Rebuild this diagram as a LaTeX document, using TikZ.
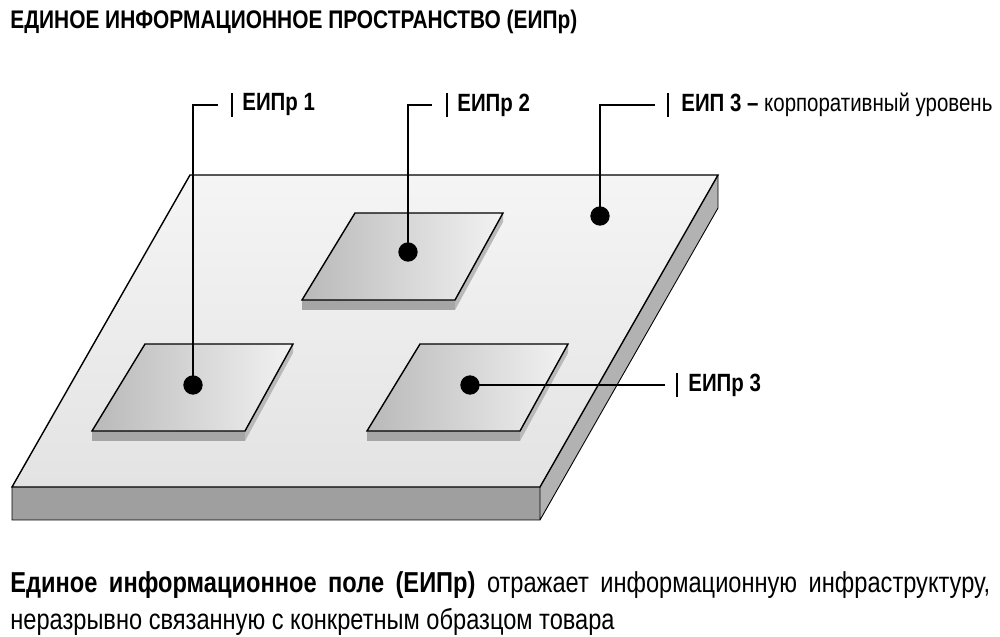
\documentclass[tikz,border=0pt]{standalone}
\usepackage{fontspec}
\setmainfont{Liberation Sans}
\newfontfamily\cond[FakeStretch=0.82]{Liberation Sans}
\begin{document}
\begin{tikzpicture}[x=0.02cm,y=-0.02cm,
  face/.style={draw=black,line width=0.8pt},
  dot/.style={circle,fill=black,inner sep=0pt,minimum size=11pt},
  lead/.style={draw=black,line width=0.6pt},
  lbl/.style={anchor=west,inner sep=0pt,font=\cond\fontsize{14.2}{16}\selectfont}]
\useasboundingbox (0,0) rectangle (1000,636);
\node[anchor=west,inner sep=0pt,font=\cond\bfseries\fontsize{14.5}{16}\selectfont] (title) at (10,22) {ЕДИНОЕ ИНФОРМАЦИОННОЕ ПРОСТРАНСТВО (ЕИПр)};
% big plate
\fill[gray!75] (12,487) -- (540,487) -- (540,520) -- (12,520) -- cycle;
\fill[gray!60] (540,487) -- (718,175) -- (718,208) -- (540,520) -- cycle;
\draw[face,top color=gray!8,bottom color=gray!22] (190,175) -- (718,175) -- (540,487) -- (12,487) -- cycle;
\draw[line width=0.5pt] (12,487)--(12,520)--(540,520)--(718,208)--(718,175) (540,487)--(540,520);
% small plates
\foreach \x/\y in {145/344, 355/213, 420/344}{
  \fill[gray!70] (\x-53,\y+87) -- (\x+100,\y+87) -- (\x+100,\y+97) -- (\x-53,\y+97) -- cycle;
  \fill[gray!55] (\x+100,\y+87) -- (\x+148,\y) -- (\x+148,\y+9) -- (\x+100,\y+97) -- cycle;
  \draw[face,left color=gray!55,right color=gray!10] (\x,\y) -- (\x+148,\y) -- (\x+100,\y+87) -- (\x-53,\y+87) -- cycle;
}
\node[dot] (d1) at (193,385) {};
\node[dot] (d2) at (408,252) {};
\node[dot] (d3) at (600,216) {};
\node[dot] (d4) at (470,385) {};
\node[lbl] (l1) at (242,105) {\bfseries ЕИПр 1};
\node[lbl] (l2) at (457,105) {\bfseries ЕИПр 2};
\node[lbl] (l3) at (681,105) {\textbf{ЕИП 3 –} корпоративный уровень};
\node[lbl] (l4) at (688,385) {\bfseries ЕИПр 3};
\coordinate (c1) at (193,105); \coordinate (e1) at (218,105);
\coordinate (c2) at (408,105); \coordinate (e2) at (432,105);
\coordinate (c3) at (600,105); \coordinate (e3) at (655,105);
\coordinate (e4) at (665,385);
\draw[lead] (d1.center) -- (c1) -- (e1);
\draw[lead] (d2.center) -- (c2) -- (e2);
\draw[lead] (d3.center) -- (c3) -- (e3);
\draw[lead] (d4.center) -- (e4);
\foreach \bx/\by in {232/105, 447/105, 668/105, 677/385}
  \draw[line width=0.9pt] (\bx,\by-12) -- (\bx,\by+12);
\node[anchor=north west,inner sep=0pt,text width=19.6cm,align=justify,
  font=\cond\fontsize{16.4}{21}\selectfont] (body) at (10,571)
  {\textbf{Единое информационное поле (ЕИПр)} отражает информационную инфраструктуру,\linebreak неразрывно связанную с конкретным образцом товара\par};
\end{tikzpicture}
\end{document}
